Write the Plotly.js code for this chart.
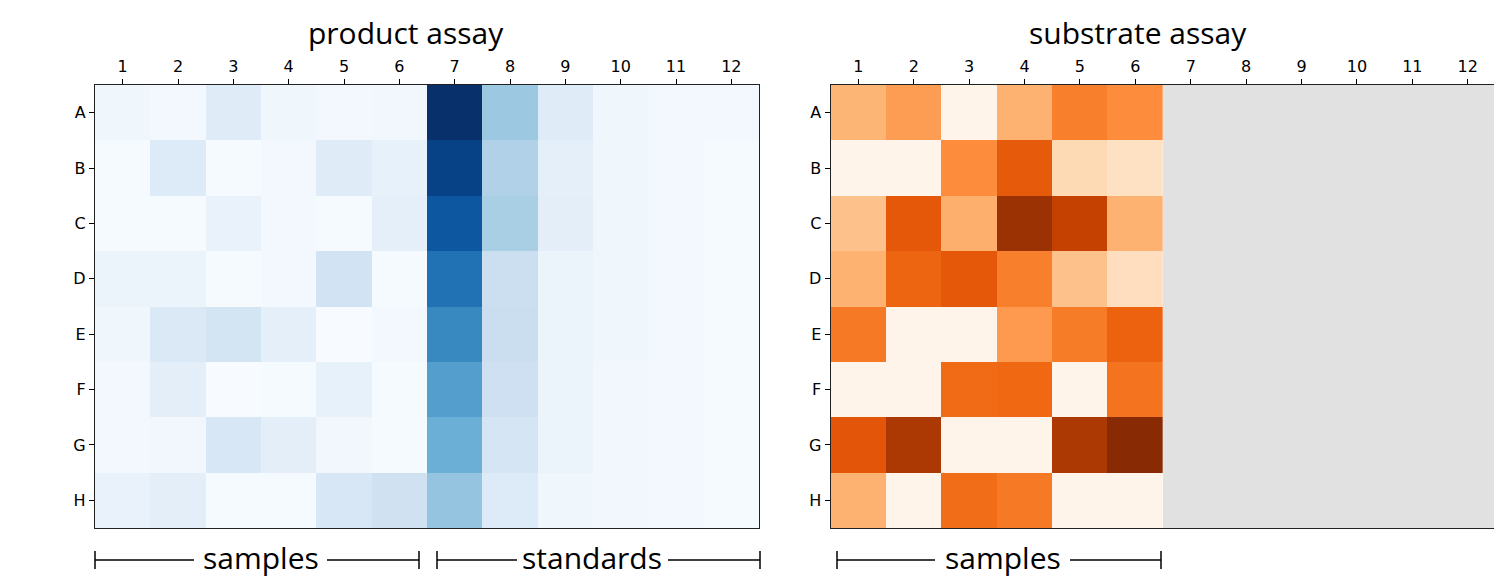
<!DOCTYPE html>
<html>
<head>
<meta charset="utf-8">
<script src="https://cdn.plot.ly/plotly-3.0.1.min.js"></script>
<style>
html,body{margin:0;padding:0;overflow:hidden;background:#fff;}
#chart{width:1500px;height:586px;}
</style>
</head>
<body>
<div id="chart"></div>
<script>
// ---- data ----
var rows = ['A','B','C','D','E','F','G','H'];
var cols = [1,2,3,4,5,6,7,8,9,10,11,12];
var sampleCols = [1,2,3,4,5,6];

// product assay (normalised signal, 0..1), rows A..H, columns 1..12
var productA = [0.04,0.02,0.12,0.04,0.02,0.03, 1.00,0.38,0.12,0.04,0.02,0.02];
var productB = [0.01,0.13,0.01,0.02,0.12,0.08, 0.93,0.32,0.09,0.04,0.02,0.01];
var productC = [0.01,0.01,0.07,0.02,0.01,0.09, 0.85,0.34,0.10,0.04,0.02,0.01];
var productD = [0.06,0.06,0.01,0.02,0.19,0.01, 0.75,0.22,0.06,0.04,0.02,0.01];
var productE = [0.04,0.14,0.18,0.09,0.00,0.02, 0.66,0.23,0.06,0.04,0.02,0.01];
var productF = [0.02,0.10,0.00,0.01,0.08,0.01, 0.57,0.21,0.06,0.03,0.02,0.01];
var productG = [0.02,0.03,0.16,0.10,0.03,0.01, 0.50,0.17,0.06,0.03,0.02,0.01];
var productH = [0.07,0.10,0.01,0.01,0.16,0.20, 0.40,0.13,0.04,0.03,0.02,0.01];

// substrate assay (normalised signal, 0..1), rows A..H, sample columns 1..6
var substrateA = [0.35,0.44,0.01,0.36,0.55,0.50];
var substrateB = [0.01,0.01,0.50,0.68,0.20,0.16];
var substrateC = [0.30,0.69,0.37,0.91,0.80,0.36];
var substrateD = [0.36,0.64,0.69,0.55,0.30,0.17];
var substrateE = [0.57,0.01,0.01,0.45,0.56,0.65];
var substrateF = [0.01,0.01,0.62,0.63,0.01,0.59];
var substrateG = [0.70,0.86,0.01,0.01,0.86,0.97];
var substrateH = [0.36,0.01,0.61,0.57,0.01,0.01];

var titles = ['product assay','substrate assay'];
var groupLabels = ['samples','standards','samples'];

// ---- colour scales (matplotlib Blues / Oranges) ----
function scale(cs){ return cs.map(function(c,i){ return [i/(cs.length-1), c]; }); }
var blues = scale(['#f7fbff','#deebf7','#c6dbef','#9ecae1','#6baed6','#4292c6','#2171b5','#08519c','#08306b']);
var oranges = scale(['#fff5eb','#fee6ce','#fdd0a2','#fdae6b','#fd8d3c','#f16913','#d94801','#a63603','#7f2704']);

var W = 1500, H = 586;
function px(x){ return x / W; }
function py(y){ return 1 - y / H; }

var L1 = 95, R1 = 759, L2 = 830.7, R2 = 1495.4, T = 85, B = 528;

var product = [productA,productB,productC,productD,productE,productF,productG,productH];
var substrate = [substrateA,substrateB,substrateC,substrateD,substrateE,substrateF,substrateG,substrateH];

var traces = [
  {type:'heatmap', x:cols, y:rows, z:product, colorscale:blues, zmin:0, zmax:1,
   showscale:false, xaxis:'x', yaxis:'y', hoverongaps:false},
  {type:'heatmap', x:sampleCols, y:rows, z:substrate, colorscale:oranges, zmin:0, zmax:1,
   showscale:false, xaxis:'x2', yaxis:'y2', hoverongaps:false}
];

var tickFont = {family:'DejaVu Sans, sans-serif', size:16, color:'#000'};
function xax(d, anchor){
  return {domain:d, anchor:anchor, side:'top', range:[0.5,12.5], tickvals:cols, ticktext:cols.map(String),
    ticks:'outside', ticklen:5, tickwidth:1, tickcolor:'#000', showgrid:false, zeroline:false,
    showline:true, mirror:true, linecolor:'#222', linewidth:1.2, tickfont:tickFont, fixedrange:true};
}
function yax(anchor){
  return {domain:[py(B), py(T)], anchor:anchor, autorange:'reversed', type:'category',
    ticks:'outside', ticklen:5, tickwidth:1, tickcolor:'#000', showgrid:false, zeroline:false,
    showline:true, mirror:true, linecolor:'#222', linewidth:1.2, tickfont:tickFont, fixedrange:true};
}

var titleFont = {family:'Open Sans, sans-serif', size:30, color:'#000'};
var annotations = [
  {text:titles[0], xref:'paper', yref:'paper', x:px(406), y:py(33), xanchor:'center', yanchor:'middle', showarrow:false, font:titleFont},
  {text:titles[1], xref:'paper', yref:'paper', x:px(1138), y:py(33), xanchor:'center', yanchor:'middle', showarrow:false, font:titleFont},
  {text:groupLabels[0], xref:'paper', yref:'paper', x:px(260.5), y:py(557), xanchor:'center', yanchor:'middle', showarrow:false, font:titleFont},
  {text:groupLabels[1], xref:'paper', yref:'paper', x:px(592), y:py(557), xanchor:'center', yanchor:'middle', showarrow:false, font:titleFont},
  {text:groupLabels[2], xref:'paper', yref:'paper', x:px(1003), y:py(557), xanchor:'center', yanchor:'middle', showarrow:false, font:titleFont}
];

var lineStyle = {color:'#000', width:1.5};
function hline(x0,x1,y){ return {type:'line', xref:'paper', yref:'paper', x0:px(x0), x1:px(x1), y0:py(y), y1:py(y), line:lineStyle}; }
function vline(x,y0,y1){ return {type:'line', xref:'paper', yref:'paper', x0:px(x), x1:px(x), y0:py(y0), y1:py(y1), line:lineStyle}; }
var by = 560, bt = 551, bb = 569;
var shapes = [
  // grey (no data) area of substrate plate
  {type:'rect', xref:'x2', yref:'y2 domain', x0:6.5, x1:12.5, y0:0, y1:1, fillcolor:'#e1e1e1', line:{width:0}, layer:'below'},
  vline(95,bt,bb), hline(95,194,by), hline(327,419,by), vline(419,bt,bb),
  vline(437,bt,bb), hline(437,517,by), hline(668,760,by), vline(760,bt,bb),
  vline(837,bt,bb), hline(837,935,by), hline(1070,1161,by), vline(1161,bt,bb)
];

var layout = {
  width:W, height:H, margin:{l:0,r:0,t:0,b:0},
  paper_bgcolor:'#fff', plot_bgcolor:'rgba(0,0,0,0)',
  xaxis: xax([px(L1), px(R1)], 'y'),
  yaxis: yax('x'),
  xaxis2: xax([px(L2), px(R2)], 'y2'),
  yaxis2: yax('x2'),
  annotations: annotations,
  shapes: shapes,
  showlegend:false
};

Plotly.newPlot('chart', traces, layout, {staticPlot:true, displayModeBar:false});
</script>
</body>
</html>
